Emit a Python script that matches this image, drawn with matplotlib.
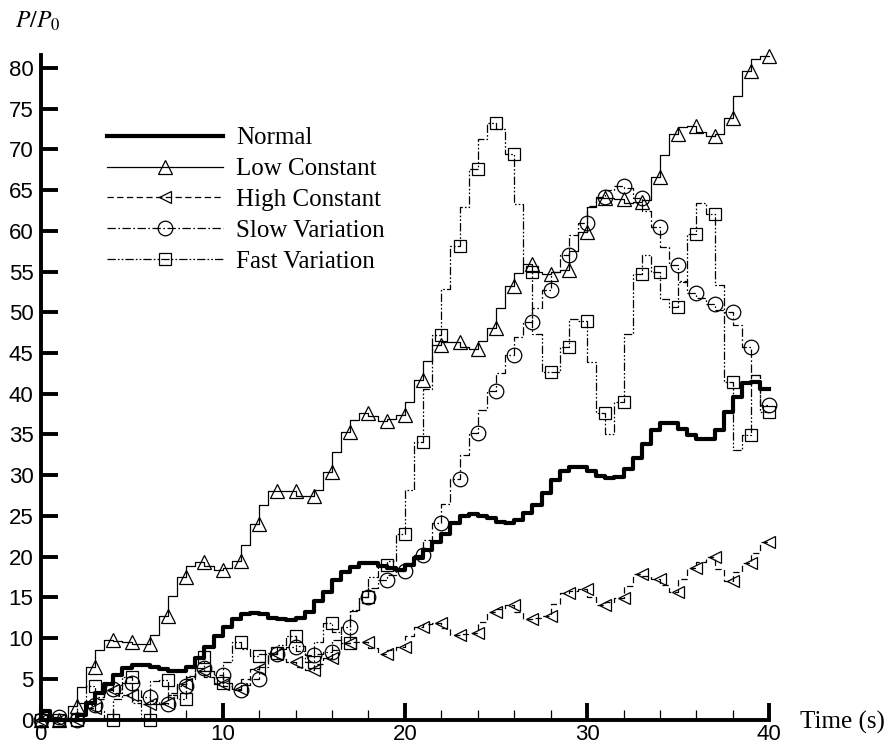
import numpy as np
import matplotlib
matplotlib.use("Agg")
import matplotlib.pyplot as plt
from matplotlib.lines import Line2D

plt.rcParams['lines.scale_dashes'] = False
plt.rcParams['mathtext.fontset'] = 'stix'

# sampling grid (s), one value every 0.5 s; markers at whole seconds
time = np.arange(0, 40.5, 0.5)

normal = [
    1.0, 1.0, 0, 0, 0, 0.6, 2.0, 3.2, 4.4, 5.5,
    6.3, 6.7, 6.7, 6.5, 6.2, 6.0, 6.0, 6.4, 7.5, 8.9,
    10.3, 11.4, 12.3, 12.9, 13.1, 12.9, 12.5, 12.3, 12.2, 12.5,
    13.2, 14.5, 15.7, 17.1, 18.1, 18.7, 19.2, 19.2, 18.8, 18.6,
    18.4, 19.0, 19.8, 20.8, 21.8, 22.8, 24.1, 25.0, 25.2, 25.0,
    24.7, 24.3, 24.1, 24.5, 25.4, 26.4, 27.8, 29.4, 30.5, 31.0,
    31.0, 30.5, 29.9, 29.6, 29.8, 30.7, 32.1, 33.8, 35.5, 36.4,
    36.4, 35.7, 34.9, 34.4, 34.5, 35.6, 37.8, 39.6, 41.3, 41.4,
    40.6]

low_constant = [
    0, 0, 0, 0, 1.7, 4.0, 6.4, 8.5, 9.8, 9.6,
    9.5, 9.3, 9.3, 10.4, 12.7, 15.2, 17.5, 18.8, 19.3, 18.9,
    18.3, 18.6, 19.5, 21.4, 24.0, 26.3, 28.0, 28.0, 28.0, 27.5,
    27.4, 28.2, 30.4, 32.9, 35.3, 36.8, 37.6, 37.3, 36.7, 36.9,
    37.4, 39.0, 41.7, 44.0, 46.0, 46.3, 46.4, 45.8, 45.5, 46.5,
    48.1, 50.5, 53.2, 54.8, 55.9, 55.0, 54.7, 54.9, 55.2, 57.5,
    59.9, 62.9, 64.1, 64.0, 63.9, 63.4, 63.5, 63.8, 66.6, 69.3,
    71.9, 72.8, 72.9, 72.2, 71.7, 71.9, 73.9, 76.6, 79.6, 81.1,
    81.5]

high_constant = [
    0, 0, 0, 0, 0, 0.5, 1.4, 2.5, 3.6, 3.3,
    3.0, 2.4, 1.9, 1.9, 2.0, 3.2, 4.4, 5.2, 5.9, 5.2,
    4.4, 4.1, 3.8, 5.0, 6.2, 7.1, 8.0, 7.4, 7.0, 6.5,
    6.1, 6.8, 7.5, 8.5, 9.4, 9.5, 9.5, 8.8, 8.1, 8.5,
    8.9, 10.2, 11.4, 11.7, 11.9, 11.2, 10.4, 10.5, 10.6, 12.0,
    13.2, 13.6, 14.0, 13.2, 12.4, 12.5, 12.7, 14.2, 15.5, 15.8,
    16.0, 15.0, 14.0, 14.4, 14.9, 16.4, 17.9, 17.6, 17.2, 16.5,
    15.7, 17.2, 18.6, 19.3, 19.9, 18.5, 17.0, 18.1, 19.2, 20.5,
    21.8]

slow_variation = [
    0, 0, 0.3, 0.2, 0, 0.8, 1.8, 2.8, 3.7, 4.2,
    4.5, 3.6, 2.8, 2.3, 1.9, 3.0, 4.1, 5.3, 6.3, 6.0,
    5.5, 4.5, 3.6, 4.2, 5.0, 6.5, 8.1, 8.6, 8.9, 8.4,
    7.9, 8.0, 8.3, 9.8, 11.4, 13.3, 15.1, 16.2, 17.1, 17.7,
    18.2, 19.2, 20.2, 22.0, 24.1, 26.5, 29.5, 32.5, 35.2, 38.0,
    40.4, 42.5, 44.8, 47.0, 48.8, 50.5, 52.8, 55.0, 57.0, 59.5,
    61.0, 63.0, 64.2, 65.0, 65.5, 65.3, 64.1, 62.5, 60.5, 58.0,
    55.8, 53.8, 52.4, 51.8, 51.0, 50.3, 50.0, 48.4, 45.8, 42.3,
    38.6]

fast_variation = [
    0, 0, 0, 0, 0, 2.0, 4.1, 1.0, 0, 2.5,
    5.2, 2.0, 0, 4.7, 4.8, 3.0, 2.5, 5.0, 7.7, 6.0,
    4.5, 7.0, 9.5, 8.6, 7.8, 8.0, 8.2, 9.2, 10.2, 9.0,
    7.1, 9.5, 11.8, 10.8, 9.4, 13.4, 15.1, 17.5, 19.0, 19.5,
    22.8, 28.2, 34.1, 40.6, 47.2, 52.9, 58.2, 62.9, 67.6, 71.3,
    73.2, 72.5, 69.5, 63.3, 54.9, 47.4, 42.7, 42.7, 45.7, 49.2,
    48.9, 43.9, 37.6, 35.1, 39.0, 47.4, 54.7, 57.0, 54.9, 51.6,
    50.6, 53.7, 59.6, 63.4, 62.1, 53.3, 41.5, 33.1, 34.9, 42.3,
    37.8]

labels = ["Normal", "Low Constant", "High Constant", "Slow Variation", "Fast Variation"]
series = [normal, low_constant, high_constant, slow_variation, fast_variation]

thin = 0.9
styles = [
    dict(color="black", lw=3.0, ls="-"),
    dict(color="black", lw=thin, ls="-", marker="^", ms=9.5),
    dict(color="black", lw=thin, ls=(0, (4.5, 2.5)), marker="<", ms=9),
    dict(color="black", lw=thin, ls=(0, (6, 1.8, 1.2, 1.8)), marker="o", ms=10.5),
    dict(color="black", lw=thin, ls=(0, (6, 1.5, 1.2, 1.5, 1.2, 1.5)), marker="s", ms=8),
]

W, H = 893, 750
fig = plt.figure(figsize=(W / 100, H / 100), dpi=100)
ax = fig.add_axes([40.5 / W, 1 - 719.5 / H, 728.8 / W, (719.5 - 55) / H])
ax.set_xlim(0, 40)
ax.set_ylim(0, 81.6)

handles = []
for vals, st, lab in zip(series, styles, labels):
    kw = dict(st)
    if "marker" in kw:
        kw.update(mfc="none", mec="black", mew=thin, markevery=slice(0, None, 2))
    ax.plot(time, vals, drawstyle="steps-pre", clip_on=False, zorder=3, **kw)
    hk = dict(st)
    if "marker" in hk:
        hk.update(mfc="none", mec="black", mew=thin)
    handles.append(Line2D([], [], **hk))

for s in ["top", "right"]:
    ax.spines[s].set_visible(False)
for s in ["left", "bottom"]:
    ax.spines[s].set_linewidth(2.8)
    ax.spines[s].set_zorder(5)

ax.set_xticks([0, 10, 20, 30, 40])
ax.set_xticks(np.arange(0, 41, 2), minor=True)
ax.set_yticks(np.arange(0, 81, 5))
ax.tick_params(axis="both", which="major", direction="in", length=12, width=2.8,
               labelsize=16)
ax.tick_params(axis="y", which="major", pad=5)
ax.tick_params(axis="x", which="major", pad=3.5)
ax.tick_params(axis="x", which="minor", direction="in", length=7, width=0.9)
ax.tick_params(axis="y", which="minor", left=False)
for lab in ax.get_xticklabels() + ax.get_yticklabels():
    lab.set_family("Liberation Sans")

fig.text(38 / W, 1 - 21 / H, r"$\mathit{P/P_0}$", ha="center", va="center", fontsize=17)
fig.text(800 / W, 1 - 722 / H, "Time (s)", family="Liberation Serif", fontsize=18,
         ha="left", va="center")

ax.legend(handles, labels, loc="upper left", bbox_to_anchor=(107 / W, 1 - 127 / H),
          bbox_transform=fig.transFigure, frameon=False, borderpad=0, borderaxespad=0,
          handlelength=4.65, handletextpad=0.52, labelspacing=0.33,
          prop={"family": "Liberation Serif", "size": 18})

fig.savefig("out.png", dpi=100)
